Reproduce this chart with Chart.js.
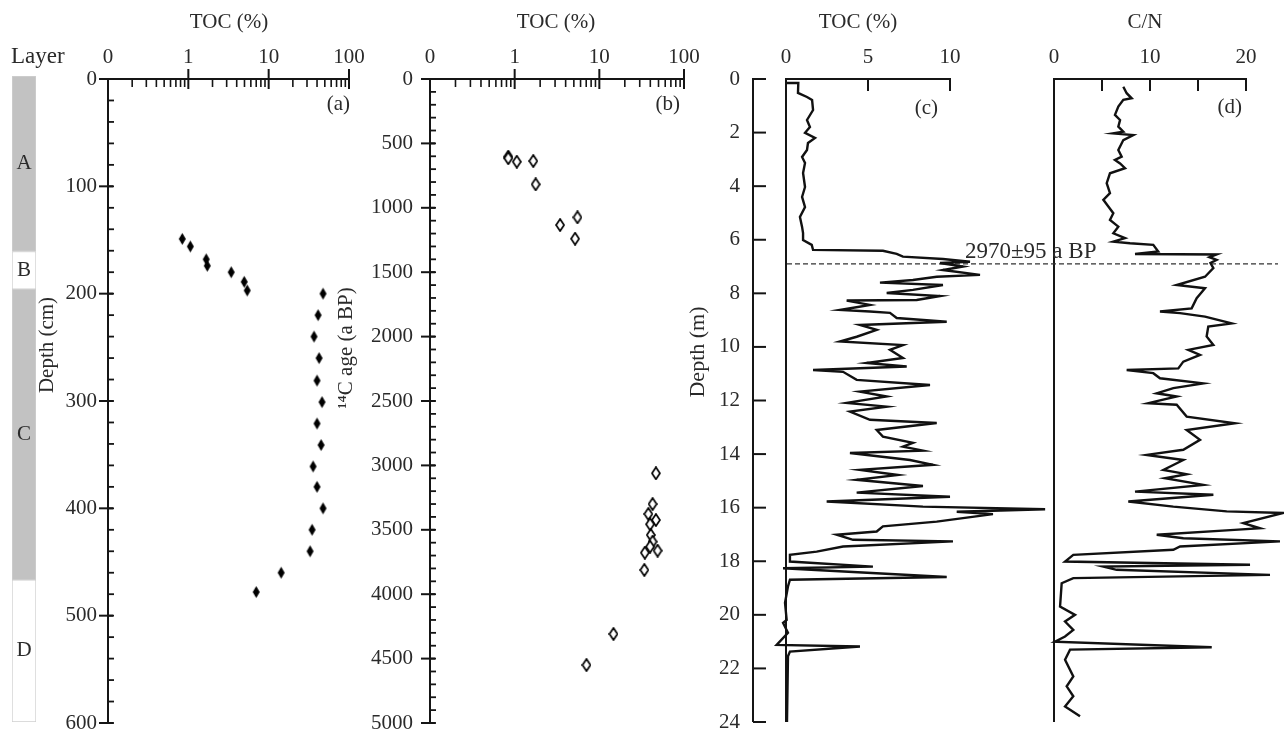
<!DOCTYPE html>
<html><head><meta charset="utf-8">
<script src="https://cdn.jsdelivr.net/npm/chart.js@4.4.0/dist/chart.umd.min.js"></script>
<style>
html,body{margin:0;padding:0;background:#fff;}
#wrap{position:relative;width:1284px;height:735px;overflow:hidden;background:#fff;}
#wrap canvas{position:absolute;left:0;top:0;}
</style></head><body>
<div id="wrap">
<canvas id="cL" width="1284" height="735"></canvas>
<canvas id="cA" width="1284" height="735"></canvas>
<canvas id="cB" width="1284" height="735"></canvas>
<canvas id="cCD" width="1284" height="735"></canvas>
</div>
<script>
// ---------------- DATA ----------------
const layerNames  = ['A','B','C','D'];
const layerTop    = [0, 163, 198, 468];
const layerBottom = [163, 198, 468, 600];

const tocA   = [0.84,1.06,1.67,1.72,3.42,4.96,5.41,47.5,41.2,36.7,42.4,40.0,46.2,40.0,44.9,35.7,40.0,47.5,34.7,32.8,14.3,7.0];
const depthA = [149,156,168,174,180,189,197,200,220,240,260,281,301,321,341,361,380,400,420,440,460,478];

const tocB = [0.84,0.84,1.06,1.66,1.77,3.44,5.52,5.17,46.6,42.6,37.9,46.6,39.8,40.5,42.6,39.8,34.5,48.8,34.0,14.7,7.05];
const ageB = [603,615,642,637,818,1134,1074,1240,3061,3300,3377,3424,3457,3540,3592,3631,3678,3662,3812,4309,4550];

const tocC = [0.05,0.75,0.73,1.28,1.59,1.65,1.28,1.46,1.16,1.77,
  1.34,1.28,0.98,1.16,1.04,1.16,0.98,1.16,0.85,0.98,
  1.04,1.04,1.57,1.65,5.91,6.75,7.13,9.57,11.22,9.39,
  10.79,9.57,11.83,9.19,7.74,5.73,9.57,7.74,6.14,9.39,
  7.97,3.70,5.12,3.29,5.12,6.34,6.75,9.80,4.51,5.53,
  4.31,3.29,7.13,6.34,7.13,4.92,7.36,1.65,3.48,4.31,
  8.78,4.51,6.14,3.70,6.14,3.90,5.12,9.19,5.53,5.91,
  7.74,7.13,8.35,3.90,7.56,8.96,4.51,6.83,4.31,8.35,
  4.31,10.0,2.48,8.35,15.8,10.41,12.62,9.19,5.91,5.53,
  3.09,4.09,10.18,3.48,1.87,0.24,0.24,5.30,-0.18,9.80,
  0.24,0.12,-0.06,0.04,-0.18,0.12,-0.57,4.51,0.24,0.12,0.06];
const depthC = [0.15,0.15,0.52,0.67,0.78,1.16,1.53,1.79,2.01,2.2,
  2.39,2.65,2.91,3.13,3.51,4.03,4.40,4.78,5.15,5.52,
  5.75,6.01,6.19,6.38,6.41,6.53,6.63,6.72,6.82,6.87,
  7.0,7.13,7.31,7.38,7.5,7.6,7.69,7.87,7.99,8.10,
  8.25,8.27,8.43,8.62,8.68,8.73,8.92,9.06,9.18,9.36,
  9.62,9.80,9.93,10.11,10.41,10.6,10.73,10.86,10.93,11.23,
  11.42,11.67,11.85,12.09,12.23,12.41,12.72,12.84,13.10,13.35,
  13.58,13.72,13.87,13.96,14.22,14.40,14.59,14.78,14.96,15.19,
  15.44,15.59,15.77,15.96,16.06,16.15,16.24,16.52,16.7,16.89,
  17.01,17.2,17.26,17.45,17.64,17.76,18.01,18.2,18.26,18.59,
  18.69,18.94,19.55,20.19,20.3,20.67,21.12,21.18,21.37,21.55,24.0];

const cnD = [7.22,7.57,8.09,7.22,6.70,6.35,6.88,6.70,7.22,6.18,
  8.26,7.22,6.70,7.05,6.35,6.88,7.40,5.83,5.49,5.83,
  5.14,5.66,6.18,5.83,6.70,6.18,7.40,6.18,7.92,10.34,
  10.86,8.44,16.94,16.2,16.94,16.3,16.6,15.73,12.78,15.73,
  14.86,14.34,11.04,13.13,15.73,18.51,16.07,15.9,16.6,13.99,
  15.21,13.47,12.95,7.57,10.34,11.04,15.55,12.43,10.7,12.78,
  9.82,12.78,13.82,18.85,13.82,15.21,13.47,9.65,13.47,11.39,
  13.82,11.56,15.55,8.44,16.6,7.74,12.43,17.99,23.89,19.72,
  21.46,18.8,10.7,13.47,23.54,13.13,12.43,2.01,1.15,20.42,
  5.14,6.53,22.5,2.01,0.8,0.63,2.19,1.15,2.01,1.15,
  0.1,16.43,1.67,1.15,2.01,1.32,2.01,1.15,2.71];
const depthD = [0.29,0.53,0.72,0.78,1.03,1.34,1.53,1.78,1.97,2.03,
  2.09,2.28,2.65,2.90,3.02,3.15,3.33,3.52,3.89,4.26,
  4.51,4.76,5.01,5.26,5.51,5.76,5.94,6.07,6.13,6.19,
  6.44,6.53,6.55,6.65,6.75,6.87,7.06,7.38,7.69,7.81,
  8.18,8.56,8.68,8.74,8.87,9.12,9.24,9.61,9.93,10.11,
  10.30,10.55,10.80,10.86,10.98,11.17,11.36,11.54,11.73,11.85,
  12.10,12.16,12.60,12.85,13.10,13.47,13.84,14.03,14.22,14.59,
  14.75,14.9,15.15,15.40,15.52,15.77,15.96,16.14,16.20,16.58,
  16.77,16.83,17.01,17.14,17.26,17.45,17.57,17.76,18.01,18.13,
  18.2,18.32,18.51,18.63,18.82,19.69,20.0,20.25,20.56,20.81,
  21.0,21.21,21.3,21.68,22.3,22.67,23.04,23.42,23.79];

const datingDepth = 6.9;
const datingLabel = '2970±95 a BP';

// tick labels
const logTickValues = [0.1, 1, 10, 100];
const logTickLabels = ['0', '1', '10', '100'];
const logMinorValues = [0.2,0.3,0.4,0.5,0.6,0.7,0.8,0.9,2,3,4,5,6,7,8,9,20,30,40,50,60,70,80,90];
const depthCmTicks = [0,100,200,300,400,500,600];
const ageTicks = [0,500,1000,1500,2000,2500,3000,3500,4000,4500,5000];
const depthMTicks = [0,2,4,6,8,10,12,14,16,18,20,22,24];
const tocTicks = [0,5,10];
const cnTicks = [0,10,20];
const cnMinorTicks = [5,15];

// ---------------- STYLE / LAYOUT ----------------
const W = 1284, H = 735;
const FONT = '"Liberation Serif","Times New Roman",serif';
const INK = '#151515';
const TXT = '#2a2a2a';
const TOP = 79;
const BOT = 723;
// panel C/D share one chart: C zero at 786 (16.4 px/unit), D zero at 1054 (9.6 px/unit)
const CD_LEFT = 786, CD_RIGHT = 1282;
const C_PPU = 16.4, D_ZERO = 1054, D_PPU = 9.6;

function line(ctx,x1,y1,x2,y2){ctx.beginPath();ctx.moveTo(x1,y1);ctx.lineTo(x2,y2);ctx.stroke();}
function text(ctx,s,x,y,align,base,size,rot){
  ctx.save();
  ctx.font = (size||21)+'px '+FONT;
  ctx.fillStyle = TXT;
  ctx.textAlign = align||'center';
  ctx.textBaseline = base||'middle';
  ctx.translate(x,y);
  if(rot) ctx.rotate(rot);
  ctx.fillText(s,0,0);
  ctx.restore();
}

function makeDiamond(w,h,hollow){
  const c=document.createElement('canvas'); c.width=w; c.height=h;
  const g=c.getContext('2d');
  g.beginPath(); g.moveTo(w/2,1); g.lineTo(w-1,h/2); g.lineTo(w/2,h-1); g.lineTo(1,h/2); g.closePath();
  if(hollow){ g.fillStyle='#fff'; g.fill(); g.lineWidth=1.7; g.strokeStyle='#000'; g.stroke(); }
  else { g.fillStyle='#000'; g.fill(); }
  return c;
}
const diamondSolid = makeDiamond(9,14,false);
const diamondHollow = makeDiamond(10,14,true);

const common = (pad)=>({
  responsive:false, maintainAspectRatio:false, animation:false, devicePixelRatio:1, events:[],
  layout:{padding:pad},
  plugins:{legend:{display:false}, tooltip:{enabled:false}, title:{display:false}}
});

function logTopAxis(ctx, xs, y0, title, titleX){
  ctx.strokeStyle=INK; ctx.lineWidth=2;
  line(ctx, xs.getPixelForValue(0.1)-1, y0, xs.getPixelForValue(100)+1, y0);
  ctx.lineWidth=1.6;
  logMinorValues.forEach(v=>{const p=xs.getPixelForValue(v); line(ctx,p,y0,p,y0+8);});
  ctx.lineWidth=2;
  logTickValues.slice(1).forEach(v=>{const p=xs.getPixelForValue(v); line(ctx,p,y0-10,p,y0+10);});
  logTickValues.forEach((v,i)=>text(ctx,logTickLabels[i],xs.getPixelForValue(v),57));
  text(ctx,title,titleX,22);
}
function leftAxis(ctx, ys, x0, majors, minorStep, labelRight){
  ctx.strokeStyle=INK; ctx.lineWidth=2;
  const yTop=ys.getPixelForValue(majors[0]), yBot=ys.getPixelForValue(majors[majors.length-1]);
  line(ctx,x0,yTop-1,x0,yBot);
  ctx.lineWidth=1.8;
  for(let v=majors[0]; v<=majors[majors.length-1]; v+=minorStep){
    const p=ys.getPixelForValue(v); line(ctx,x0,p,x0+6,p);
  }
  ctx.lineWidth=2;
  majors.forEach(v=>{const p=ys.getPixelForValue(v); line(ctx,x0-9,p,x0+5,p); text(ctx,String(v),labelRight,p,'right','middle');});
}

// ---------------- LAYER COLUMN ----------------
new Chart('cL',{
  type:'bar',
  data:{labels:['Layer'], datasets: layerNames.map((n,i)=>({
    label:n, data:[[layerTop[i], layerBottom[i]]],
    backgroundColor: (i%2===0)?'#c2c2c2':'#ffffff',
    borderColor:'#cfcfcf', borderWidth:1, borderSkipped:false,
    barPercentage:1, categoryPercentage:1, grouped:false
  }))},
  options:{...common({left:12, top:76, right:W-36, bottom:H-722}),
    scales:{x:{display:false}, y:{type:'linear', min:0, max:600, reverse:true, display:false}}},
  plugins:[{id:'layerText', afterDraw(chart){
    const ctx=chart.ctx;
    text(ctx,'Layer',11,63,'left','alphabetic',23);
    chart.data.datasets.forEach((ds,i)=>{
      const el=chart.getDatasetMeta(i).data[0];
      text(ctx, ds.label, el.x, (el.y+el.base)/2, 'center','middle',21);
    });
  }}]
});

// ---------------- PANEL A ----------------
new Chart('cA',{
  type:'scatter',
  data:{datasets:[{data: tocA.map((v,i)=>({x:v, y:depthA[i]})), pointStyle:diamondSolid, pointRadius:7}]},
  options:{...common({left:108, top:TOP, right:W-349, bottom:H-BOT}),
    scales:{x:{type:'logarithmic', min:0.1, max:100, display:false},
            y:{type:'linear', min:0, max:600, reverse:true, display:false}}},
  plugins:[{id:'axA', afterDraw(chart){
    const ctx=chart.ctx, xs=chart.scales.x, ys=chart.scales.y;
    ctx.save();
    logTopAxis(ctx, xs, ys.getPixelForValue(0), 'TOC (%)', 229);
    leftAxis(ctx, ys, xs.getPixelForValue(0.1), depthCmTicks, 20, 97);
    text(ctx,'Depth (cm)',47,345,'center','middle',21,-Math.PI/2);
    text(ctx,'(a)',350,104,'right','middle',21);
    ctx.restore();
  }}]
});

// ---------------- PANEL B ----------------
new Chart('cB',{
  type:'scatter',
  data:{datasets:[{data: tocB.map((v,i)=>({x:v, y:ageB[i]})), pointStyle:diamondHollow, pointRadius:7}]},
  options:{...common({left:430, top:TOP, right:W-684, bottom:H-BOT}),
    scales:{x:{type:'logarithmic', min:0.1, max:100, display:false},
            y:{type:'linear', min:0, max:5000, reverse:true, display:false}}},
  plugins:[{id:'axB', afterDraw(chart){
    const ctx=chart.ctx, xs=chart.scales.x, ys=chart.scales.y;
    ctx.save();
    logTopAxis(ctx, xs, ys.getPixelForValue(0), 'TOC (%)', 556);
    leftAxis(ctx, ys, xs.getPixelForValue(0.1), ageTicks, 100, 413);
    text(ctx,'¹⁴C age (a BP)',346,348,'center','middle',21,-Math.PI/2);
    text(ctx,'(b)',680,104,'right','middle',21);
    ctx.restore();
  }}]
});

// ---------------- PANELS C & D ----------------
const cMax = (CD_RIGHT-CD_LEFT)/C_PPU;
const dMin = -(D_ZERO-CD_LEFT)/D_PPU, dMax = (CD_RIGHT-D_ZERO)/D_PPU;
new Chart('cCD',{
  type:'scatter',
  data:{datasets:[
    {data: tocC.map((v,i)=>({x:v, y:depthC[i]})), xAxisID:'xC', showLine:true, pointRadius:0,
     borderColor:'#111', borderWidth:2.4, tension:0, clip:false},
    {data: cnD.map((v,i)=>({x:v, y:depthD[i]})), xAxisID:'xD', showLine:true, pointRadius:0,
     borderColor:'#111', borderWidth:2.4, tension:0, clip:false}
  ]},
  options:{...common({left:CD_LEFT, top:TOP, right:W-CD_RIGHT, bottom:H-722}),
    scales:{xC:{type:'linear', position:'top', min:0, max:cMax, display:false},
            xD:{type:'linear', position:'top', min:dMin, max:dMax, display:false},
            y:{type:'linear', min:0, max:24, reverse:true, display:false}}},
  plugins:[{id:'axCD', beforeDatasetsDraw(chart){
    const ctx=chart.ctx, xc=chart.scales.xC, xd=chart.scales.xD, ys=chart.scales.y;
    ctx.save();
    const y0=ys.getPixelForValue(0), yB=ys.getPixelForValue(24);
    ctx.strokeStyle=INK; ctx.lineWidth=2;
    // panel C frame
    const c0=xc.getPixelForValue(0), c10=xc.getPixelForValue(10);
    line(ctx,c0,y0,c10+1,y0); line(ctx,c0,y0-1,c0,yB);
    tocTicks.slice(1).forEach(v=>{const p=xc.getPixelForValue(v); line(ctx,p,y0,p,y0+12);});
    tocTicks.forEach(v=>text(ctx,String(v),xc.getPixelForValue(v),57));
    text(ctx,'TOC (%)',858,22);
    text(ctx,'(c)',938,108,'right','middle',21);
    // depth axis
    const ax=753;
    line(ctx,ax,y0-1,ax,yB);
    depthMTicks.forEach(v=>{const p=ys.getPixelForValue(v); line(ctx,ax,p,ax+13,p); text(ctx,String(v),740,p,'right','middle');});
    text(ctx,'Depth (m)',698,352,'center','middle',22,-Math.PI/2);
    // panel D frame
    const d0=xd.getPixelForValue(0), d20=xd.getPixelForValue(20);
    line(ctx,d0,y0,d20+1,y0); line(ctx,d0,y0-1,d0,yB);
    cnTicks.slice(1).concat(cnMinorTicks).forEach(v=>{const p=xd.getPixelForValue(v); line(ctx,p,y0,p,y0+12);});
    cnTicks.forEach(v=>text(ctx,String(v),xd.getPixelForValue(v),57));
    text(ctx,'C/N',1145,22);
    text(ctx,'(d)',1242,107,'right','middle',21);
    // dating line
    const yd=ys.getPixelForValue(datingDepth);
    ctx.strokeStyle='#333'; ctx.lineWidth=1.3; ctx.setLineDash([5,3]);
    line(ctx,c0+1,yd,1278,yd);
    ctx.setLineDash([]);
    text(ctx,datingLabel,965,258,'left','alphabetic',23);
    ctx.restore();
  }}]
});
</script>
</body></html>
